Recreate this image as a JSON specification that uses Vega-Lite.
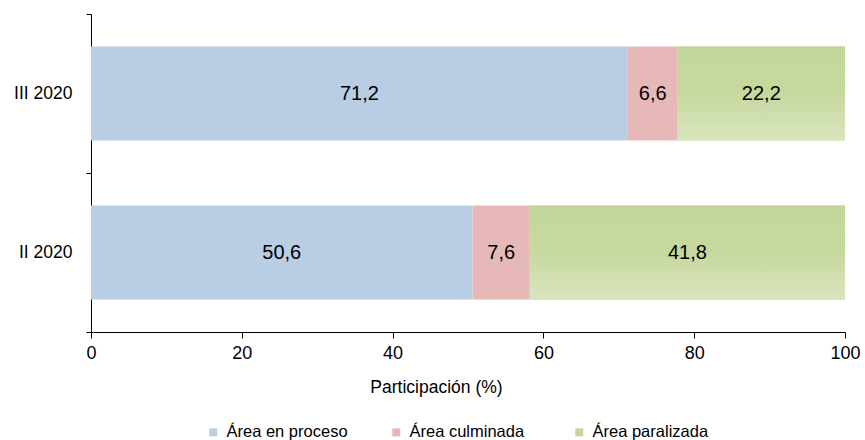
{
  "$schema": "https://vega.github.io/schema/vega-lite/v6.json",
  "width": 754,
  "height": 318,
  "padding": {"left": 13, "top": 5, "right": 20, "bottom": 0},
  "background": "white",
  "config": {
    "font": "Liberation Sans",
    "view": {"stroke": null},
    "locale": {"number": {"decimal": ",", "thousands": ".", "grouping": [3], "currency": ["$", ""]}}
  },
  "data": {
    "values": [
      {"periodo": "III 2020", "tipo": "Área en proceso", "orden": 1, "valor": 71.2},
      {"periodo": "III 2020", "tipo": "Área culminada", "orden": 2, "valor": 6.6},
      {"periodo": "III 2020", "tipo": "Área paralizada", "orden": 3, "valor": 22.2},
      {"periodo": "II 2020", "tipo": "Área en proceso", "orden": 1, "valor": 50.6},
      {"periodo": "II 2020", "tipo": "Área culminada", "orden": 2, "valor": 7.6},
      {"periodo": "II 2020", "tipo": "Área paralizada", "orden": 3, "valor": 41.8}
    ]
  },
  "transform": [
    {"stack": "valor", "groupby": ["periodo"], "sort": [{"field": "orden"}], "as": ["x0", "x1"]},
    {"calculate": "(datum.x0 + datum.x1) / 2", "as": "xm"}
  ],
  "encoding": {
    "y": {
      "field": "periodo",
      "type": "nominal",
      "sort": ["III 2020", "II 2020"],
      "scale": {"paddingInner": 0, "paddingOuter": 0},
      "axis": {
        "title": null,
        "tickBand": "extent",
        "labelFontSize": 17.5,
        "labelFontWeight": "normal",
        "labelColor": "#000",
        "labelPadding": 14,
        "tickSize": 5,
        "tickColor": "#000",
        "domainColor": "#000",
        "grid": false
      }
    }
  },
  "layer": [
    {
      "mark": {"type": "bar", "height": {"band": 0.59}},
      "encoding": {
        "x": {
          "field": "x0",
          "type": "quantitative",
          "scale": {"domain": [0, 100]},
          "axis": {
            "title": "Participación (%)",
            "titleFontSize": 17.5,
            "titleFontWeight": "normal",
            "titleColor": "#000",
            "titlePadding": 16,
            "titleX": 345,
            "titleAlign": "center",
            "titleAnchor": null,
            "values": [0, 20, 40, 60, 80, 100],
            "labelFontSize": 18,
            "labelColor": "#000",
            "labelPadding": 6,
            "tickSize": 6,
            "tickColor": "#000",
            "domainColor": "#000",
            "grid": false,
            "labelFlush": false
          }
        },
        "x2": {"field": "x1"},
        "color": {
          "field": "tipo",
          "type": "nominal",
          "sort": ["Área en proceso", "Área culminada", "Área paralizada"],
          "scale": {
            "domain": ["Área en proceso", "Área culminada", "Área paralizada"],
            "range": ["#b9cde5", "#e6b9b8", "#c4d79b"]
          },
          "legend": {
            "title": null,
            "orient": "none",
            "legendX": 114,
            "legendY": 410,
            "direction": "horizontal",
            "gridAlign": "all",
            "symbolType": "square",
            "symbolSize": 64,
            "symbolStrokeWidth": 0,
            "labelFontSize": 16.5,
            "labelColor": "#000",
            "labelOffset": 5,
            "columnPadding": 40
          }
        }
      }
    },
    {
      "transform": [{"filter": "datum.tipo === 'Área paralizada'"}],
      "mark": {
        "type": "bar",
        "height": {"band": 0.59},
        "color": {
          "gradient": "linear",
          "x1": 0, "y1": 0, "x2": 0, "y2": 1,
          "stops": [
            {"offset": 0, "color": "#c4d79b"},
            {"offset": 0.5, "color": "#c6d89e"},
            {"offset": 1, "color": "#d9e5bf"}
          ]
        }
      },
      "encoding": {
        "x": {"field": "x0", "type": "quantitative"},
        "x2": {"field": "x1"}
      }
    },
    {
      "mark": {"type": "text", "fontSize": 20, "color": "#000", "baseline": "middle", "align": "center"},
      "encoding": {
        "x": {"field": "xm", "type": "quantitative"},
        "text": {"field": "valor", "type": "quantitative", "format": ".1f"}
      }
    }
  ]
}
